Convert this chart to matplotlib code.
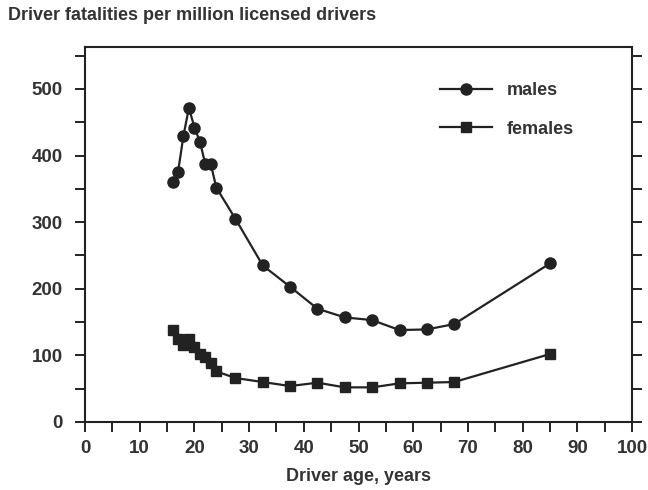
"""Driver fatalities per million licensed drivers, by age and sex."""

import matplotlib

matplotlib.use("Agg")
import matplotlib.pyplot as plt  # noqa: E402
from matplotlib.ticker import MultipleLocator  # noqa: E402

ages = [16, 17, 18, 19, 20, 21, 22, 23, 24, 27.5, 32.5, 37.5, 42.5, 47.5,
        52.5, 57.5, 62.5, 67.5, 85]
males = [360, 375, 430, 472, 442, 421, 387, 387, 352, 305, 235, 203, 170,
         157, 153, 138, 139, 147, 238]
females = [138, 125, 115, 125, 112, 102, 97, 88, 76, 66, 60, 54, 59, 52,
           52, 58, 59, 60, 102]

INK = "#222222"
TXT = "#333333"
plt.rcParams["font.family"] = ["Liberation Sans", "DejaVu Sans"]
plt.rcParams["font.weight"] = "bold"

fig = plt.figure(figsize=(6.48, 4.9), dpi=100)
ax = fig.add_axes([0.1312, 0.1388, 0.8441, 0.7652])

ax.plot(ages, males, color=INK, lw=1.6, marker="o", ms=8, label="males")
ax.plot(ages, females, color=INK, lw=1.6, marker="s", ms=7, label="females")

ax.set_xlim(0, 100)
ax.set_ylim(0, 563)
ax.xaxis.set_major_locator(MultipleLocator(10))
ax.xaxis.set_minor_locator(MultipleLocator(5))
ax.yaxis.set_major_locator(MultipleLocator(100))
ax.yaxis.set_minor_locator(MultipleLocator(50))
ax.tick_params(which="both", direction="out", length=7, width=1.4, color=INK,
               right=True, top=False, labelsize=13.5, labelcolor=TXT)
ax.tick_params(axis="y", pad=9)
ax.tick_params(axis="x", pad=6)
for s in ax.spines.values():
    s.set_linewidth(1.5)
    s.set_color(INK)

ax.set_xlabel("Driver age, years", fontsize=13, fontweight="bold",
              color=TXT, labelpad=8)
fig.text(0.012, 0.968, "Driver fatalities per million licensed drivers",
         fontsize=13, color=TXT, va="center", ha="left")

ax.legend(loc="upper left", bbox_to_anchor=(0.649, 0.907), frameon=False,
          borderpad=0, borderaxespad=0, fontsize=13, handlelength=2.9,
          labelspacing=1.2, handletextpad=0.8, labelcolor=TXT)

fig.savefig("out.png", dpi=100)
